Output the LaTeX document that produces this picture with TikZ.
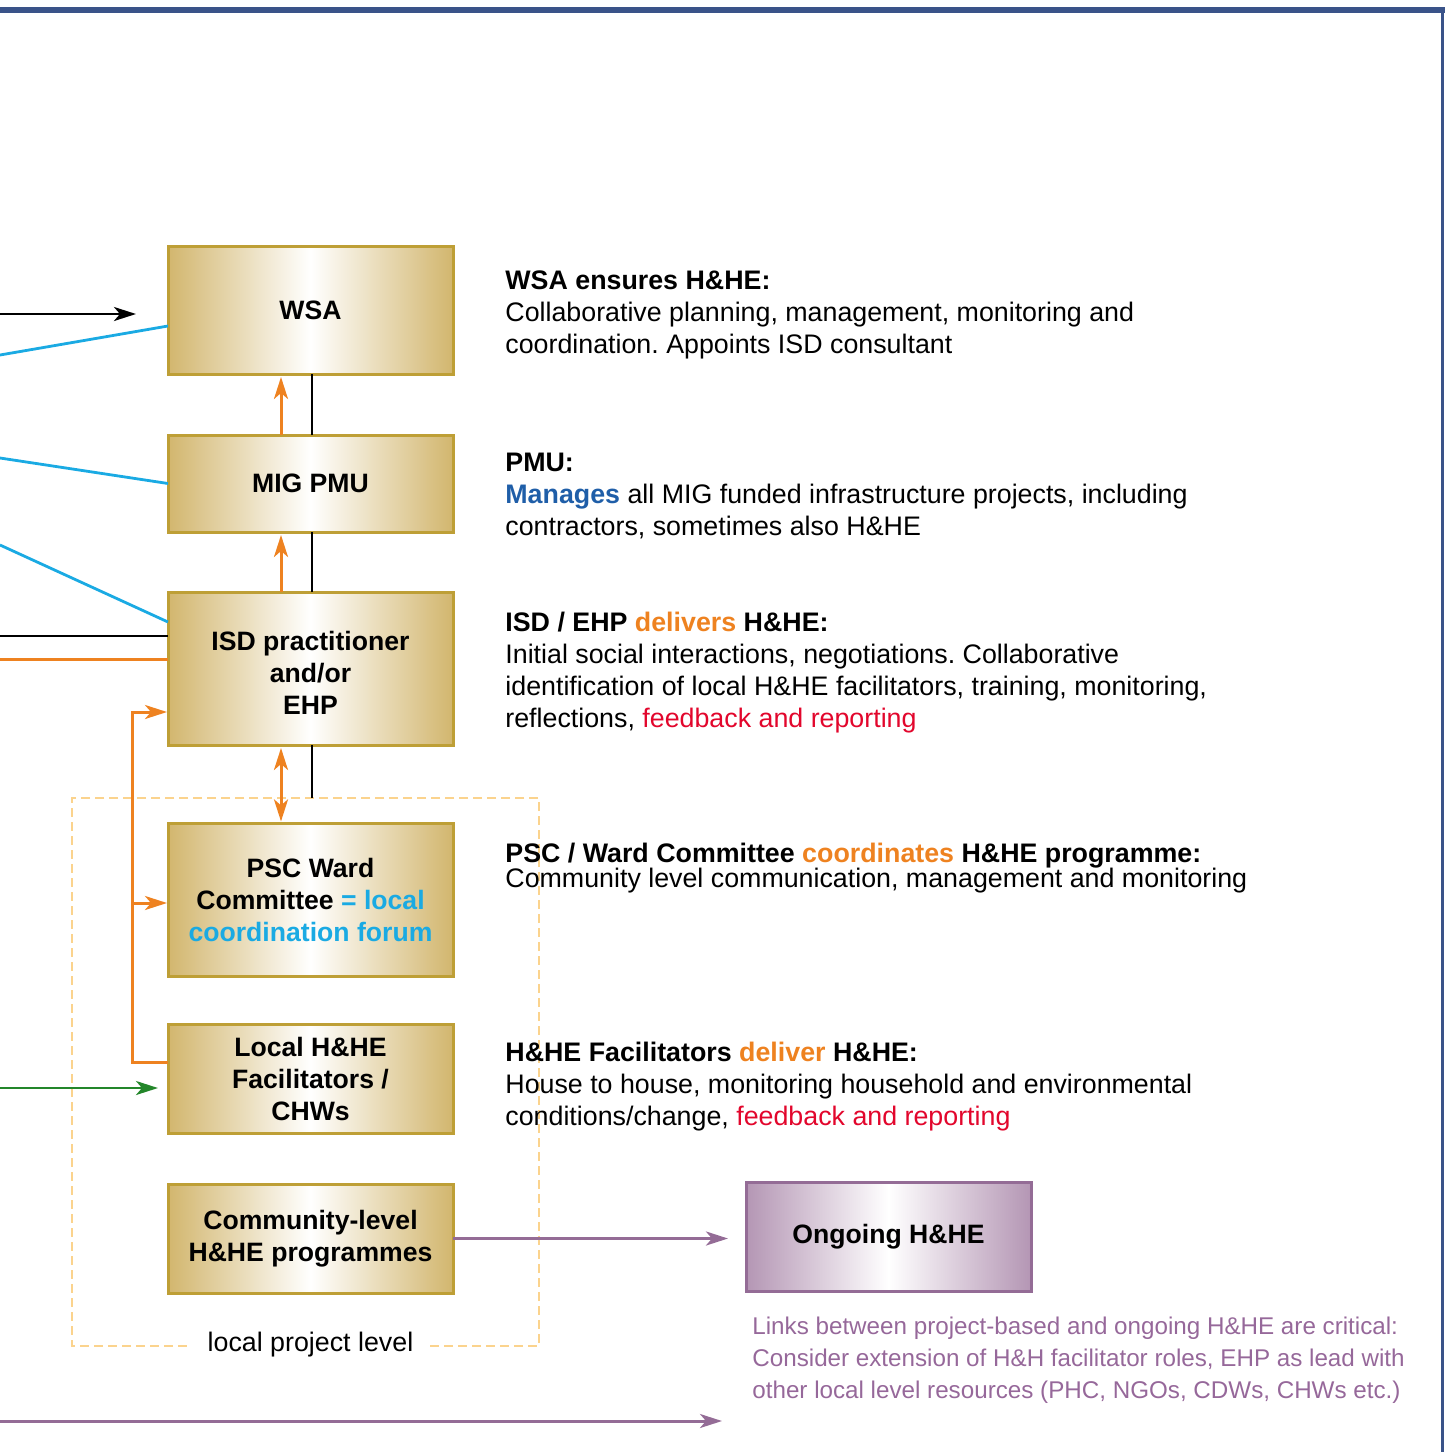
\documentclass[tikz,border=0pt]{standalone}
\usepackage{fontspec}
\setmainfont{Liberation Sans}
\usetikzlibrary{arrows.meta,calc}
\frenchspacing
\definecolor{frame}{HTML}{3A5389}
\definecolor{goldE}{HTML}{D2B66E}
\definecolor{goldB}{HTML}{BE9F36}
\definecolor{cyanL}{HTML}{1AAAE3}
\definecolor{orng}{HTML}{EE8220}
\definecolor{grn}{HTML}{23862A}
\definecolor{purp}{HTML}{946C96}
\definecolor{purpE}{HTML}{B496B4}
\definecolor{purpT}{HTML}{96689A}
\definecolor{dashO}{HTML}{FBD38D}
\definecolor{mblue}{HTML}{1F5EA8}
\definecolor{redT}{HTML}{E2062C}
\tikzset{
  goldbox/.style={draw=goldB, line width=1.5pt, left color=goldE, right color=goldE, middle color=white,
    minimum width=142.5pt, align=center, inner sep=0pt, outer sep=0pt,
    font=\fontsize{13.3}{16}\selectfont\bfseries},
  purpbox/.style={draw=purp, line width=1.5pt, left color=purpE, right color=purpE, middle color=white,
    minimum width=142.5pt, minimum height=54.5pt, align=center, inner sep=0pt, outer sep=0pt,
    font=\fontsize{13.3}{16}\selectfont\bfseries},
  txt/.style={anchor=base west, inner sep=0pt, font=\fontsize{13.4}{16}\selectfont},
  ptxt/.style={anchor=base west, inner sep=0pt, text=purpT, font=\fontsize{12.1}{16}\selectfont},
  tip/.style={-{Stealth[length=11pt,width=7pt,inset=3pt]}},
  blkarr/.style={tip, line width=1.4pt, draw=black},
  blkline/.style={line width=1.4pt, draw=black},
  bline/.style={line width=1.4pt, draw=cyanL},
  oline/.style={line width=1.5pt, draw=orng},
  oarr/.style={tip, line width=1.5pt, draw=orng},
  odbl/.style={{Stealth[length=11pt,width=7pt,inset=3pt]}-{Stealth[length=11pt,width=7pt,inset=3pt]}, line width=1.5pt, draw=orng},
  garr/.style={tip, line width=1.4pt, draw=grn},
  parr/.style={tip, line width=1.5pt, draw=purp},
  dbox/.style={draw=dashO, line width=1.4pt, dash pattern=on 4.5pt off 2.5pt},
}
\begin{document}
\begin{tikzpicture}[x=0.5pt, y=-0.5pt]
\useasboundingbox (0,0) rectangle (1445,1452);
% frame
\draw[frame, line width=2.6pt] (0,10) -- (1445,10);
\draw[frame, line width=1.5pt] (1442,10) -- (1442,1452);

% dashed local project level box
\node[inner sep=0pt, anchor=base, font=\fontsize{13.4}{16}\selectfont] (lpl) at (310.5,1351) {local project level};
\draw[dbox] (430,1346) -- (539,1346) -- (539,798) -- (72,798) -- (72,1346) -- (192,1346);

% boxes
\node[goldbox, minimum height=64pt] (wsa) at (310.5,310) {WSA};
\node[goldbox, minimum height=48.5pt] (mig) at (310.5,483.5) {MIG PMU};
\node[goldbox, minimum height=76.5pt] (isd) at (310.5,668.5) {\rule{0pt}{13.6pt}ISD practitioner\\and/or\\EHP};
\node[goldbox, minimum height=76.5pt] (psc) at (310.5,899.5) {PSC Ward\\Committee \textcolor{cyanL}{= local}\\\textcolor{cyanL}{coordination forum}};
\node[goldbox, minimum height=54.5pt] (loc) at (310.5,1078.5) {Local H\&HE\\Facilitators /\\CHWs};
\node[goldbox, minimum height=54.5pt] (com) at (310.5,1238.5) {Community-level\\H\&HE programmes};
\node[purpbox] (ong) at (888.5,1236.5) {Ongoing H\&HE};

% free ends
\coordinate (k1) at (0,314);
\coordinate (k1e) at (136,314);
\coordinate (c1) at (0,355);
\coordinate (c2) at (0,458);
\coordinate (c3) at (0,545);
\coordinate (k2) at (0,636);
\coordinate (o1) at (0,659);
\coordinate (g1) at (0,1088);
\coordinate (g1e) at (158,1088);
\coordinate (p1) at (0,1421);
\coordinate (p1e) at (722,1421);
\coordinate (dtop) at (312,798);

% left incoming connectors
\draw[blkarr] (k1) -- (k1e);
\draw[bline] (c1) -- ([yshift=-8pt]wsa.west);
\draw[bline] (c2) -- (mig.west);
\draw[bline] (c3) -- ([yshift=23.25pt]isd.west);
\draw[blkline] (k2) -- ([yshift=16.25pt]isd.west);
\draw[oline] (o1) -- ([yshift=4.75pt]isd.west);
\draw[garr] (g1) -- (g1e);
\draw[parr] (p1) -- (p1e);

% vertical connectors
\draw[oarr, shorten >=1.5pt] ([xshift=-14.75pt]mig.north) -- ([xshift=-14.75pt]wsa.south);
\draw[blkline] ([xshift=0.75pt]wsa.south) -- ([xshift=0.75pt]mig.north);
\draw[oarr, shorten >=1.5pt] ([xshift=-14.75pt]isd.north) -- ([xshift=-14.75pt]mig.south);
\draw[blkline] ([xshift=0.75pt]mig.south) -- ([xshift=0.75pt]isd.north);
\draw[odbl, shorten >=0.8pt, shorten <=1.5pt] ([xshift=-14.75pt]isd.south) -- ([xshift=-14.75pt]psc.north);
\draw[blkline] ([xshift=0.75pt]isd.south) -- (dtop);

% orange feedback elbow
\draw[oarr, shorten >=0.5pt] ([yshift=8.25pt]loc.west) -- ++(-18pt,0) |- ([yshift=-21.75pt]isd.west);
\draw[oarr, shorten >=0.5pt] ($(psc.west)+(-18pt,-1.75pt)$) -- ([yshift=-1.75pt]psc.west);

% to ongoing
\draw[parr, shorten >=9pt] (com.east) -- (com.east -| ong.west);

% right-hand texts
\node[txt] (t1a) at (505,289) {\bfseries WSA ensures H\&HE:};
\node[txt] (t1b) at (505,321) {Collaborative planning, management, monitoring and};
\node[txt] (t1c) at (505,353) {coordination. Appoints ISD consultant};
\node[txt] (t2a) at (505,471) {\bfseries PMU:};
\node[txt] (t2b) at (505,503) {\textbf{\textcolor{mblue}{Manages}} all MIG funded infrastructure projects, including};
\node[txt] (t2c) at (505,535) {contractors, sometimes also H\&HE};
\node[txt] (t3a) at (505,631) {\bfseries ISD / EHP \textcolor{orng}{delivers} H\&HE:};
\node[txt] (t3b) at (505,663) {Initial social interactions, negotiations. Collaborative};
\node[txt] (t3c) at (505,695) {identification of local H\&HE facilitators, training, monitoring,};
\node[txt] (t3d) at (505,727) {reflections, \textcolor{redT}{feedback and reporting}};
\node[txt] (t4a) at (505,862) {\bfseries PSC / Ward Committee \textcolor{orng}{coordinates} H\&HE programme:};
\node[txt] (t4b) at (505,887) {Community level communication, management and monitoring};
\node[txt] (t5a) at (505,1061) {\bfseries H\&HE Facilitators \textcolor{orng}{deliver} H\&HE:};
\node[txt] (t5b) at (505,1093) {House to house, monitoring household and environmental};
\node[txt] (t5c) at (505,1125) {conditions/change, \textcolor{redT}{feedback and reporting}};
\node[ptxt] (q1) at (752,1334) {Links between project-based and ongoing H\&HE are critical:};
\node[ptxt] (q2) at (752,1366) {Consider extension of H\&H facilitator roles, EHP as lead with};
\node[ptxt] (q3) at (752,1398) {other local level resources (PHC, NGOs, CDWs, CHWs etc.)};
\end{tikzpicture}
\end{document}
